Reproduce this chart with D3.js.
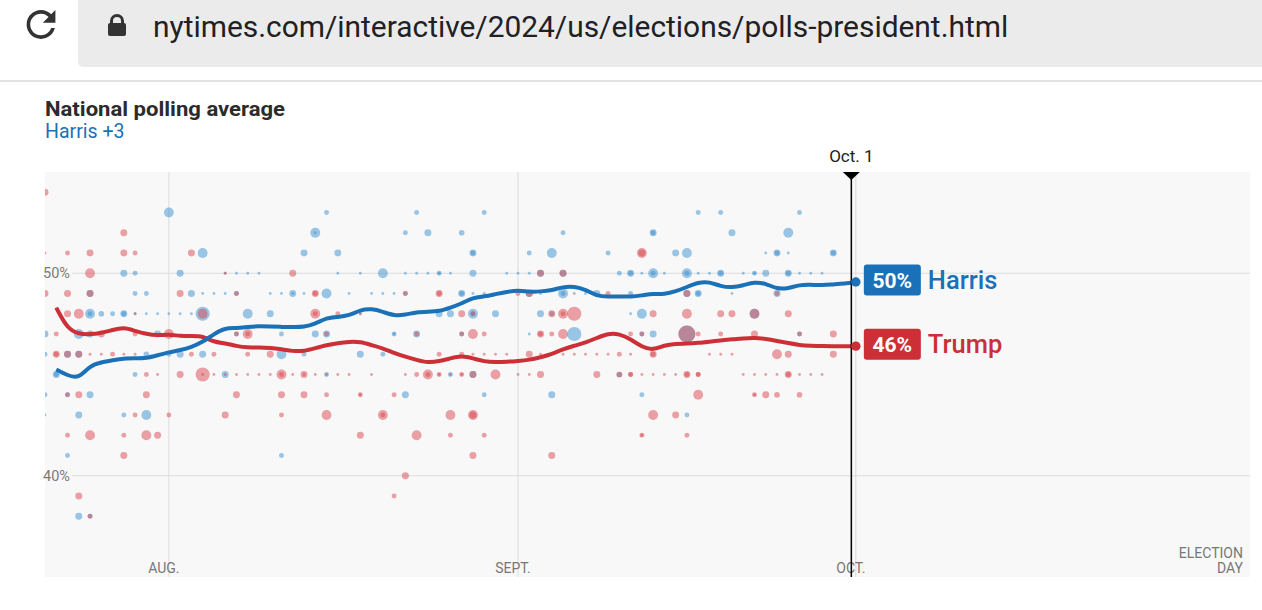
<!DOCTYPE html>
<html>
<head>
<meta charset="utf-8">
<script src="https://cdn.jsdelivr.net/npm/d3@7"></script>
<style>
  body { margin: 0; background: #fff; }
  svg { display: block; font-family: Roboto, "Noto Sans", sans-serif; }
</style>
</head>
<body>
<svg id="chart" width="1262" height="610"></svg>
<script>
// Poll dots: [date, percent, poll weight]
var harrisPolls = [
  ["7/21",47,6],["7/21",46,3],["7/21",44,3],["7/21",43,1],
  ["7/22",45,6],["7/22",45,3],
  ["7/23",46,6],["7/23",44,3],["7/23",41,3],
  ["7/24",47,12],["7/24",46,6],["7/24",43,6],["7/24",38,6],
  ["7/25",49,6],["7/25",48,12],["7/25",48,3],["7/25",47,6],["7/25",44,6],["7/25",38,3],
  ["7/26",48,4],["7/27",48,3],
  ["7/28",50,6],["7/28",48,6],["7/28",48,3],["7/28",43,3],
  ["7/29",50,3],["7/29",49,3],["7/29",48,1],["7/29",45,3],
  ["7/30",49,3],["7/30",48,1],["7/30",46,4],["7/30",43,12],
  ["7/31",48,1],["7/31",47,6],
  ["8/1",53,12],["8/1",48,1],["8/1",46,3],
  ["8/2",50,6],["8/2",48,1],["8/2",46,6],
  ["8/3",49,6],["8/3",48,1],
  ["8/4",51,12],["8/4",49,1],["8/4",48,25],["8/4",46,6],
  ["8/5",49,1],["8/6",50,1],["8/6",49,1],["8/6",45,6],
  ["8/7",50,1],["8/7",49,3],["8/7",47,3],
  ["8/8",50,1],["8/8",48,12],["8/9",50,1],
  ["8/10",49,1],["8/10",48,6],
  ["8/11",49,1],["8/11",47,3],["8/11",46,12],["8/11",41,3],
  ["8/12",49,6],["8/12",49,1],
  ["8/13",51,6],["8/13",49,1],["8/13",46,3],
  ["8/14",52,12],["8/14",52,1],["8/14",47,6],
  ["8/15",53,3],["8/15",49,12],["8/15",47,6],["8/15",45,3],
  ["8/16",51,6],["8/16",50,1],["8/17",49,1],
  ["8/18",50,1],["8/18",48,1],["8/18",46,6],
  ["8/19",49,1],["8/20",50,12],["8/20",49,1],["8/20",46,3],
  ["8/21",49,1],["8/21",47,3],["8/21",47,1],
  ["8/22",52,3],["8/22",50,1],["8/22",49,3],["8/22",44,6],
  ["8/23",53,3],["8/23",50,1],["8/23",47,6],
  ["8/24",52,6],["8/24",50,1],
  ["8/25",50,3],["8/25",50,1],["8/25",48,6],
  ["8/26",50,1],["8/26",48,6],["8/26",45,3],
  ["8/27",52,4],["8/27",49,6],["8/27",49,3],["8/27",47,3],
  ["8/28",51,6],["8/28",51,3],["8/28",50,6],["8/28",49,1],["8/28",48,12],["8/28",48,3],["8/28",45,6],
  ["8/29",53,3],["8/29",49,1],["8/29",44,3],
  ["8/30",48,6],["8/31",50,1],
  ["9/1",50,1],["9/2",51,3],["9/2",50,1],["9/2",49,6],["9/2",47,1],
  ["9/3",50,6],["9/3",49,1],["9/3",48,6],
  ["9/4",51,12],["9/4",48,3],["9/4",44,6],
  ["9/5",52,3],["9/5",50,6],["9/5",49,12],["9/5",49,3],
  ["9/6",49,1],["9/6",47,25],["9/7",49,1],["9/8",49,6],
  ["9/9",51,3],["9/10",50,3],["9/10",45,4],
  ["9/11",50,6],["9/11",50,3],["9/11",49,3],["9/11",48,1],
  ["9/12",50,1],["9/12",48,12],["9/12",47,3],["9/12",44,3],
  ["9/13",52,6],["9/13",52,3],["9/13",50,12],["9/13",50,3],["9/13",47,6],
  ["9/14",50,1],["9/15",51,6],
  ["9/16",51,12],["9/16",50,12],["9/16",50,3],["9/16",49,6],["9/16",47,36],["9/16",43,3],
  ["9/17",53,3],["9/17",50,1],["9/17",49,6],["9/17",49,3],
  ["9/18",50,1],["9/19",53,3],["9/19",50,6],["9/19",50,3],
  ["9/20",52,6],["9/20",49,1],["9/21",50,1],
  ["9/22",50,3],["9/22",50,1],["9/22",48,12],
  ["9/23",51,1],["9/23",50,6],
  ["9/24",51,6],["9/24",51,3],["9/24",49,6],
  ["9/25",52,12],["9/25",51,1],["9/25",50,6],["9/25",50,3],
  ["9/26",53,3],["9/26",50,1],["9/26",47,3],
  ["9/27",50,1],["9/28",50,1],["9/29",51,6],["9/29",51,3]
];

var trumpPolls = [
  ["7/21",54,6],["7/21",51,1],["7/21",49,6],
  ["7/22",47,3],["7/22",46,6],["7/22",46,3],
  ["7/23",51,3],["7/23",49,6],["7/23",48,6],["7/23",46,6],["7/23",44,3],["7/23",42,3],
  ["7/24",48,12],["7/24",46,6],["7/24",44,6],["7/24",39,6],
  ["7/25",51,6],["7/25",50,12],["7/25",49,6],["7/25",46,1],["7/25",42,12],["7/25",38,3],
  ["7/26",47,6],["7/26",46,1],["7/27",46,3],
  ["7/28",52,6],["7/28",51,6],["7/28",46,1],["7/28",42,3],["7/28",41,6],
  ["7/29",51,3],["7/29",48,1],["7/29",47,3],["7/29",46,1],["7/29",43,3],
  ["7/30",45,3],["7/30",44,6],["7/30",42,12],
  ["7/31",45,1],["7/31",42,6],
  ["8/1",47,12],["8/1",43,3],
  ["8/2",49,6],["8/2",45,6],
  ["8/3",51,6],["8/3",46,3],
  ["8/4",48,12],["8/4",45,25],["8/4",45,1],
  ["8/5",46,3],["8/5",45,1],
  ["8/6",50,1],["8/6",45,1],["8/6",43,6],
  ["8/7",49,3],["8/7",47,3],["8/7",45,1],["8/7",44,6],
  ["8/8",47,12],["8/8",47,3],["8/8",46,3],["8/8",45,1],
  ["8/9",45,1],["8/10",46,6],["8/10",45,1],
  ["8/11",45,12],["8/11",45,3],["8/11",44,6],["8/11",43,3],
  ["8/12",50,6],["8/12",45,1],
  ["8/13",45,6],["8/13",45,1],["8/13",44,6],
  ["8/14",49,6],["8/14",49,3],["8/14",48,12],["8/14",48,3],["8/14",45,1],
  ["8/15",47,3],["8/15",45,1],["8/15",44,3],["8/15",43,12],
  ["8/16",48,3],["8/16",45,1],["8/17",45,1],
  ["8/18",48,1],["8/18",44,3],["8/18",44,1],["8/18",42,6],
  ["8/19",45,1],["8/20",43,12],["8/20",43,3],
  ["8/21",44,3],["8/21",39,3],
  ["8/22",49,3],["8/22",45,1],["8/22",40,6],
  ["8/23",47,3],["8/23",45,3],["8/23",42,12],
  ["8/24",45,12],["8/24",45,3],
  ["8/25",49,6],["8/25",49,3],["8/25",46,3],["8/25",45,3],["8/25",45,1],
  ["8/26",45,1],["8/26",43,12],["8/26",42,3],
  ["8/27",48,6],["8/27",47,3],["8/27",46,3],["8/27",45,3],["8/27",45,1],
  ["8/28",48,3],["8/28",47,12],["8/28",46,1],["8/28",45,6],["8/28",43,12],["8/28",43,6],["8/28",41,6],
  ["8/29",47,3],["8/29",46,1],["8/29",42,3],
  ["8/30",46,1],["8/30",45,12],["8/31",46,1],
  ["9/1",49,3],["9/1",45,1],
  ["9/2",49,6],["9/2",46,6],["9/2",45,1],
  ["9/3",50,6],["9/3",47,6],["9/3",47,3],["9/3",46,1],["9/3",45,6],
  ["9/4",48,6],["9/4",47,3],["9/4",41,6],
  ["9/5",50,6],["9/5",48,12],["9/5",48,3],["9/5",47,12],["9/5",46,1],
  ["9/6",48,25],["9/6",46,1],["9/7",46,1],
  ["9/8",46,1],["9/8",45,6],
  ["9/9",49,3],["9/9",46,1],
  ["9/10",46,3],["9/10",45,4],
  ["9/11",47,3],["9/11",46,1],["9/11",45,3],["9/11",45,3],
  ["9/12",51,12],["9/12",51,6],["9/12",47,3],["9/12",45,1],["9/12",42,3],["9/12",42,1],
  ["9/13",48,6],["9/13",46,6],["9/13",46,3],["9/13",45,1],["9/13",43,12],
  ["9/14",45,1],["9/15",45,1],["9/15",43,6],
  ["9/16",49,6],["9/16",48,12],["9/16",47,36],["9/16",45,6],["9/16",45,3],["9/16",42,3],
  ["9/17",47,3],["9/17",45,3],["9/17",45,3],["9/17",44,12],
  ["9/18",46,1],["9/19",48,6],["9/19",47,3],["9/19",46,1],
  ["9/20",48,6],["9/20",46,1],["9/21",45,1],
  ["9/22",48,12],["9/22",47,6],["9/22",45,1],["9/22",44,3],["9/22",44,1],
  ["9/23",45,1],["9/23",44,6],
  ["9/24",49,3],["9/24",46,12],["9/24",45,1],["9/24",44,4],
  ["9/25",48,6],["9/25",46,6],["9/25",45,6],["9/25",45,3],
  ["9/26",47,3],["9/26",45,1],["9/26",44,4],
  ["9/27",45,1],["9/28",45,1],
  ["9/29",47,6],["9/29",46,6]
];

// Daily polling averages, July 22 through Oct. 1
var avgStart = "7/22", avgEnd = "10/1";
var harrisAvg = [
  45.25,44.95,44.8,45.45,45.6,45.7,45.8,45.8,45.8,45.95,
  46.1,46.2,46.35,46.6,47.0,47.3,47.28,47.35,47.39,47.37,
  47.35,47.34,47.34,47.5,47.8,47.84,47.9,48.2,48.25,48.1,
  47.9,47.95,48.08,48.1,48.12,48.3,48.5,48.8,48.85,48.97,
  49.08,49.16,49.08,49.1,49.15,49.33,49.35,49.2,48.87,48.85,
  48.86,48.84,48.9,49.0,48.96,49.1,49.32,49.55,49.58,49.35,
  49.29,49.4,49.57,49.5,49.22,49.25,49.43,49.43,49.41,49.45,
  49.48,49.57
];
var trumpAvg = [
  48.3,47.25,47.0,46.98,47.05,47.2,47.33,47.15,47.0,46.93,
  46.98,46.9,46.9,46.9,46.6,46.55,46.4,46.33,46.33,46.32,
  46.25,46.15,46.15,46.3,46.45,46.55,46.62,46.62,46.45,46.3,
  46.05,45.88,45.72,45.58,45.65,45.8,45.93,45.8,45.64,45.61,
  45.63,45.67,45.72,45.85,46.0,46.25,46.42,46.58,46.8,47.03,
  47.01,46.75,46.35,46.2,46.45,46.52,46.52,46.56,46.62,46.68,
  46.74,46.78,46.82,46.76,46.66,46.55,46.45,46.42,46.4,46.4,
  46.4,46.4
];

var yTicks = [40, 50];
var monthTicks = [["8/1","AUG."],["9/1","SEPT."],["10/1","OCT."]];
var domainDates = ["7/21","11/5"];
var todayLabel = "Oct. 1";

var parse = function(s){ return d3.timeParse("%m/%d/%Y")(s + "/2024"); };

var blue = "#1a71b8", red = "#cc2f35";
var blueDot = "rgb(58,143,208)", redDot = "rgb(217,70,77)";

var svg = d3.select("#chart");

//Browser chrome
svg.append("path")
  .attr("d", "M78,0 H1262 V67 H84 Q78,67 78,61 Z")
  .attr("fill", "#ebebeb");
svg.append("path")
  .attr("d", "M17.65 6.35C16.2 4.9 14.21 4 12 4c-4.42 0-7.99 3.58-7.99 8s3.57 8 7.99 8c3.73 0 6.84-2.55 7.73-6h-2.08c-.82 2.33-3.04 4-5.65 4-3.31 0-6-2.69-6-6s2.69-6 6-6c1.66 0 3.14.69 4.22 1.78L13 11h7V4l-2.35 2.35z")
  .attr("transform", "translate(19.4,2.9) scale(1.8)")
  .attr("fill", "#333");
svg.append("rect").attr("x", 108).attr("y", 23).attr("width", 18).attr("height", 13).attr("rx", 2).attr("fill", "#333");
svg.append("path").attr("d", "M111.5,24 V21 A5.5,5.5 0 0 1 122.5,21 V24")
  .attr("fill", "none").attr("stroke", "#333").attr("stroke-width", 3);
svg.append("text").attr("x", 153).attr("y", 37).attr("font-size", 29.9).attr("fill", "#202124")
  .text("nytimes.com/interactive/2024/us/elections/polls-president.html");
svg.append("rect").attr("x", 0).attr("y", 80).attr("width", 1262).attr("height", 2).attr("fill", "#e2e2e2");

//Header
var hLast = harrisAvg[harrisAvg.length-1], tLast = trumpAvg[trumpAvg.length-1];
svg.append("text").attr("x", 45).attr("y", 116).attr("font-size", 21).attr("font-weight", 700)
  .attr("fill", "#2b2b2b").attr("textLength", 240).attr("lengthAdjust", "spacingAndGlyphs")
  .text("National polling average");
svg.append("text").attr("x", 45).attr("y", 138).attr("font-size", 19.5).attr("fill", blue)
  .text("Harris +" + Math.round(hLast - tLast));

//Scales
var plotL = 45, plotR = 1250, plotT = 172, plotB = 577;
var x = d3.scaleTime().domain(domainDates.map(parse)).range([plotL, plotR]);
var y = d3.scaleLinear().domain([35, 55]).range([plotB, plotT]);
var r = d3.scaleSqrt().domain([0, 1]).range([0, 1.42]);

svg.append("rect").attr("x", plotL).attr("y", plotT).attr("width", plotR-plotL).attr("height", plotB-plotT).attr("fill", "#f8f8f8");
svg.append("clipPath").attr("id", "plotClip").append("rect")
  .attr("x", plotL).attr("y", plotT).attr("width", plotR-plotL).attr("height", plotB-plotT);

//Gridlines
var grid = svg.append("g");
grid.selectAll(".hgrid").data(yTicks).enter().append("line")
  .attr("x1", plotL + 27).attr("x2", plotR)
  .attr("y1", function(d){ return y(d); }).attr("y2", function(d){ return y(d); })
  .attr("stroke", "#dcdcdc").attr("stroke-width", 1);
grid.selectAll(".hlab").data(yTicks).enter().append("text")
  .attr("x", plotL - 2).attr("y", function(d){ return y(d); }).attr("dy", "0.35em")
  .attr("font-size", 14.5).attr("fill", "#7a7a7a").text(function(d){ return d + "%"; });
grid.selectAll(".vgrid").data(monthTicks).enter().append("line")
  .attr("x1", function(d){ return x(parse(d[0])); }).attr("x2", function(d){ return x(parse(d[0])); })
  .attr("y1", plotT).attr("y2", plotB).attr("stroke", "#dcdcdc").attr("stroke-width", 1);
grid.selectAll(".vlab").data(monthTicks).enter().append("text")
  .attr("x", function(d){ return x(parse(d[0])) - 5; }).attr("y", 573)
  .attr("text-anchor", "middle").attr("font-size", 14).attr("fill", "#777")
  .text(function(d){ return d[1]; });
var elec = svg.append("text").attr("text-anchor", "end").attr("font-size", 14).attr("fill", "#777");
elec.append("tspan").attr("x", x(parse(domainDates[1])) - 7).attr("y", 558).text("ELECTION");
elec.append("tspan").attr("x", x(parse(domainDates[1])) - 7).attr("y", 573).text("DAY");

//Poll dots, Harris under Trump
var dots = svg.append("g").attr("clip-path", "url(#plotClip)");
dots.selectAll(".hdot").data(harrisPolls).enter().append("circle")
  .attr("cx", function(d){ return x(parse(d[0])); }).attr("cy", function(d){ return y(d[1]); })
  .attr("r", function(d){ return r(d[2]); }).attr("fill", blueDot).attr("fill-opacity", 0.5);
dots.selectAll(".tdot").data(trumpPolls).enter().append("circle")
  .attr("cx", function(d){ return x(parse(d[0])); }).attr("cy", function(d){ return y(d[1]); })
  .attr("r", function(d){ return r(d[2]); }).attr("fill", redDot).attr("fill-opacity", 0.5);

//Average lines
var avgDates = d3.timeDay.range(parse(avgStart), d3.timeDay.offset(parse(avgEnd), 1));
var line = d3.line().curve(d3.curveBasis)
  .x(function(d, i){ return x(avgDates[i]); }).y(function(d){ return y(d); });
svg.append("path").datum(trumpAvg).attr("d", line).attr("fill", "none")
  .attr("stroke", red).attr("stroke-width", 4).attr("stroke-linejoin", "round");
svg.append("path").datum(harrisAvg).attr("d", line).attr("fill", "none")
  .attr("stroke", blue).attr("stroke-width", 4).attr("stroke-linejoin", "round");

//Today marker
var todayX = x(parse(avgEnd)) - 4.5;
svg.append("line").attr("x1", todayX).attr("x2", todayX).attr("y1", plotT).attr("y2", plotB)
  .attr("stroke", "#000").attr("stroke-width", 1.5);
svg.append("path").attr("d", "M" + (todayX-8.5) + "," + plotT + " h17 l-8.5,8 z").attr("fill", "#000");
svg.append("text").attr("x", todayX).attr("y", 162).attr("text-anchor", "middle")
  .attr("font-size", 17).attr("fill", "#222").text(todayLabel);

//End labels
var ends = [
  {name: "Harris", value: hLast, color: blue},
  {name: "Trump", value: tLast, color: red}
];
var endX = x(parse(avgEnd));
ends.forEach(function(e){
  var cy = y(e.value);
  svg.append("circle").attr("cx", endX).attr("cy", cy).attr("r", 4.7).attr("fill", e.color);
  var ly = cy - 2;
  svg.append("rect").attr("x", endX + 8).attr("y", ly - 15.5).attr("width", 57).attr("height", 31)
    .attr("rx", 3).attr("fill", e.color);
  svg.append("text").attr("x", endX + 36.5).attr("y", ly).attr("dy", "0.36em").attr("text-anchor", "middle")
    .attr("font-size", 21).attr("font-weight", 700).attr("fill", "#fff")
    .text(Math.round(e.value) + "%");
  svg.append("text").attr("x", endX + 72).attr("y", ly).attr("dy", "0.36em")
    .attr("font-size", 25.5).attr("font-weight", 500).attr("fill", e.color).text(e.name);
});
</script>
</body>
</html>
